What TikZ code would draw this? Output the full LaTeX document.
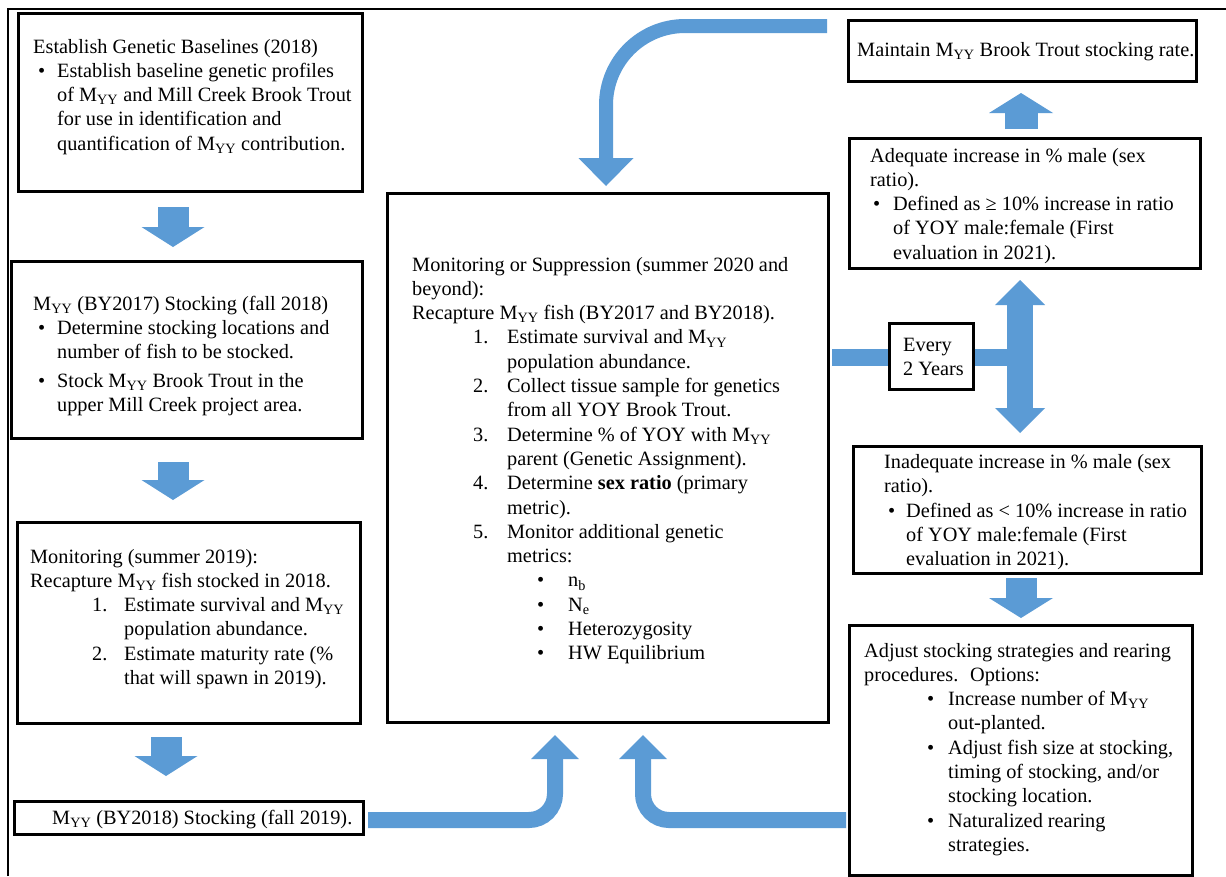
\documentclass[tikz,border=0pt]{standalone}
\usepackage{fontspec}
\setmainfont{Liberation Serif}
\usetikzlibrary{calc}
\definecolor{afill}{HTML}{5B9BD5}
\newcommand{\bodyfont}{\fontsize{20.3}{24.3}\selectfont}
\newcommand{\Myy}{M\textsubscript{YY}}
\newcommand{\itm}[3]{\hspace*{#1}\makebox[#2][l]{#3}}
\newcommand{\cont}[1]{\hspace*{#1}}
\newcommand{\hdown}[3]{\fill[afill] (#1) -- ++(-#2/2,-#3) -- ++(#2,0) -- cycle;}
\newcommand{\hup}[3]{\fill[afill] (#1) -- ++(-#2/2,#3) -- ++(#2,0) -- cycle;}
\begin{document}
\begin{tikzpicture}[x=1pt,y=-1pt,
  box/.style={draw, line width=3pt, inner sep=0pt, anchor=north west},
  txt/.style={anchor=base west, inner sep=0pt, font=\bodyfont},
  band/.style={draw=afill, line width=#1}]
\useasboundingbox (0,0) rectangle (1226,876);
\fill[white] (0,0) rectangle (1226,876);
\draw[line width=1.6pt] (8,876) -- (8,9) -- (1226,9);

% boxes
\node[box, minimum width=344pt, minimum height=178pt] (A) at (17,12) {};
\node[box, minimum width=351pt, minimum height=177pt] (B) at (10,260) {};
\node[box, minimum width=343pt, minimum height=201pt] (C) at (16,521) {};
\node[box, minimum width=349pt, minimum height=33pt] (D) at (13,800) {};
\node[box, minimum width=441pt, minimum height=529pt] (M) at (386,192) {};
\node[box, minimum width=348pt, minimum height=61pt] (Mt) at (847,19) {};
\node[box, minimum width=351pt, minimum height=130pt] (Aq) at (848,137) {};
\node[box, line width=2.5pt, minimum width=84pt, minimum height=66pt] (E) at (888,322) {};
\node[box, minimum width=348pt, minimum height=127pt] (In) at (852,445) {};
\node[box, minimum width=343pt, minimum height=250pt] (Adj) at (848,624) {};

% texts
\node[txt] (tA) at (33,53) {\begin{tabular}[t]{@{}l@{}}
Establish Genetic Baselines (2018)\\
\itm{5pt}{19pt}{•}Establish baseline genetic profiles\\
\cont{24pt}of \Myy{} and Mill Creek Brook Trout\\
\cont{24pt}for use in identification and\\
\cont{24pt}quantification of \Myy{} contribution.
\end{tabular}};

\node[txt] (tB) at (33,310) {\begin{tabular}[t]{@{}l@{}}
\Myy{} (BY2017) Stocking (fall 2018)\\
\itm{5pt}{19pt}{•}Determine stocking locations and\\
\cont{24pt}number of fish to be stocked.\\[4.7pt]
\itm{5pt}{19pt}{•}Stock \Myy{} Brook Trout in the\\
\cont{24pt}upper Mill Creek project area.
\end{tabular}};

\node[txt] (tC) at (30,563) {\begin{tabular}[t]{@{}l@{}}
Monitoring (summer 2019):\\
Recapture \Myy{} fish stocked in 2018.\\
\itm{62pt}{32pt}{1.}Estimate survival and \Myy\\
\cont{94pt}population abundance.\\
\itm{62pt}{32pt}{2.}Estimate maturity rate (\%\\
\cont{94pt}that will spawn in 2019).
\end{tabular}};

\node[txt] (tD) at (52,824) {\Myy{} (BY2018) Stocking (fall 2019).};

\node[txt] (tM) at (412,271) {\begin{tabular}[t]{@{}l@{}}
Monitoring or Suppression (summer 2020 and\\
beyond):\\
Recapture \Myy{} fish (BY2017 and BY2018).\\
\itm{61pt}{34pt}{1.}Estimate survival and \Myy\\
\cont{95pt}population abundance.\\
\itm{61pt}{34pt}{2.}Collect tissue sample for genetics\\
\cont{95pt}from all YOY Brook Trout.\\
\itm{61pt}{34pt}{3.}Determine \% of YOY with \Myy\\
\cont{95pt}parent (Genetic Assignment).\\
\itm{61pt}{34pt}{4.}Determine \textbf{sex ratio} (primary\\
\cont{95pt}metric).\\
\itm{61pt}{34pt}{5.}Monitor additional genetic\\
\cont{95pt}metrics:\\
\itm{125pt}{31pt}{•}n\textsubscript{b}\\
\itm{125pt}{31pt}{•}N\textsubscript{e}\\
\itm{125pt}{31pt}{•}Heterozygosity\\
\itm{125pt}{31pt}{•}HW Equilibrium
\end{tabular}};

\node[txt] (tMt) at (857,56) {Maintain \Myy{} Brook Trout stocking rate.};

\node[txt] (tAq) at (870,162) {\begin{tabular}[t]{@{}l@{}}
Adequate increase in \% male (sex\\
ratio).\\
\itm{3pt}{20pt}{•}Defined as ≥ 10\% increase in ratio\\
\cont{23pt}of YOY male:female (First\\
\cont{23pt}evaluation in 2021).
\end{tabular}};

\node[txt] (tE) at (903,351) {\begin{tabular}[t]{@{}l@{}}
Every\\
2 Years
\end{tabular}};

\node[txt] (tIn) at (884,468.5) {\begin{tabular}[t]{@{}l@{}}
Inadequate increase in \% male (sex\\
ratio).\\
\itm{4pt}{18pt}{•}Defined as < 10\% increase in ratio\\
\cont{22pt}of YOY male:female (First\\
\cont{22pt}evaluation in 2021).
\end{tabular}};

\node[txt] (tAdj) at (864,657) {\begin{tabular}[t]{@{}l@{}}
Adjust stocking strategies and rearing\\
procedures.~ Options:\\
\itm{63pt}{21pt}{•}Increase number of \Myy\\
\cont{84pt}out-planted.\\
\itm{63pt}{21pt}{•}Adjust fish size at stocking,\\
\cont{84pt}timing of stocking, and/or\\
\cont{84pt}stocking location.\\
\itm{63pt}{21pt}{•}Naturalized rearing\\
\cont{84pt}strategies.
\end{tabular}};

% straight block arrows
\coordinate (ab0) at (173,207); \coordinate (ab1) at (173,247);
\draw[band=31pt] (ab0) -- ($(ab1)+(0,-19)$); \hdown{ab1}{63}{20}
\coordinate (bc0) at (173,462); \coordinate (bc1) at (173,500);
\draw[band=31pt] (bc0) -- ($(bc1)+(0,-19)$); \hdown{bc1}{63}{20}
\coordinate (cd0) at (166,737); \coordinate (cd1) at (166,776);
\draw[band=31pt] (cd0) -- ($(cd1)+(0,-19)$); \hdown{cd1}{63}{20}
\coordinate (up0) at (1021,129); \coordinate (up1) at (1021,93);
\draw[band=33pt] (up0) -- ($(up1)+(0,19)$); \hup{up1}{64}{20}
\coordinate (dn0) at (1021,578); \coordinate (dn1) at (1021,618);
\draw[band=31pt] (dn0) -- ($(dn1)+(0,-19)$); \hdown{dn1}{64}{20}

% every-2-years junction and double arrow
\coordinate (d0) at (1020,433); \coordinate (d1) at (1020,280);
\coordinate (h0) at (832,357);
\draw[band=17pt] (h0) -- (h0 -| E.west);
\draw[band=17pt] (h0 -| E.east) -- (h0 -| d0);
\draw[band=26pt] ($(d1)+(0,24)$) -- ($(d0)+(0,-24)$);
\hup{d1}{50}{25}
\hdown{d0}{50}{25}

% curved arrows
\coordinate (t0) at (827,26); \coordinate (t1) at (606,186);
\draw[band=14pt, rounded corners=79pt] (t0) -- (t0 -| t1) -- ($(t1)+(0,-27)$);
\hdown{t1}{55}{28}
\coordinate (p0) at (368,820); \coordinate (p1) at (555,735);
\draw[band=16pt, rounded corners=26pt] (p0) -- (p0 -| p1) -- ($(p1)+(0,23)$);
\hup{p1}{48}{24}
\coordinate (q0) at (846,820); \coordinate (q1) at (643,735);
\draw[band=16pt, rounded corners=26pt] (q0) -- (q0 -| q1) -- ($(q1)+(0,23)$);
\hup{q1}{48}{24}
\end{tikzpicture}
\end{document}
